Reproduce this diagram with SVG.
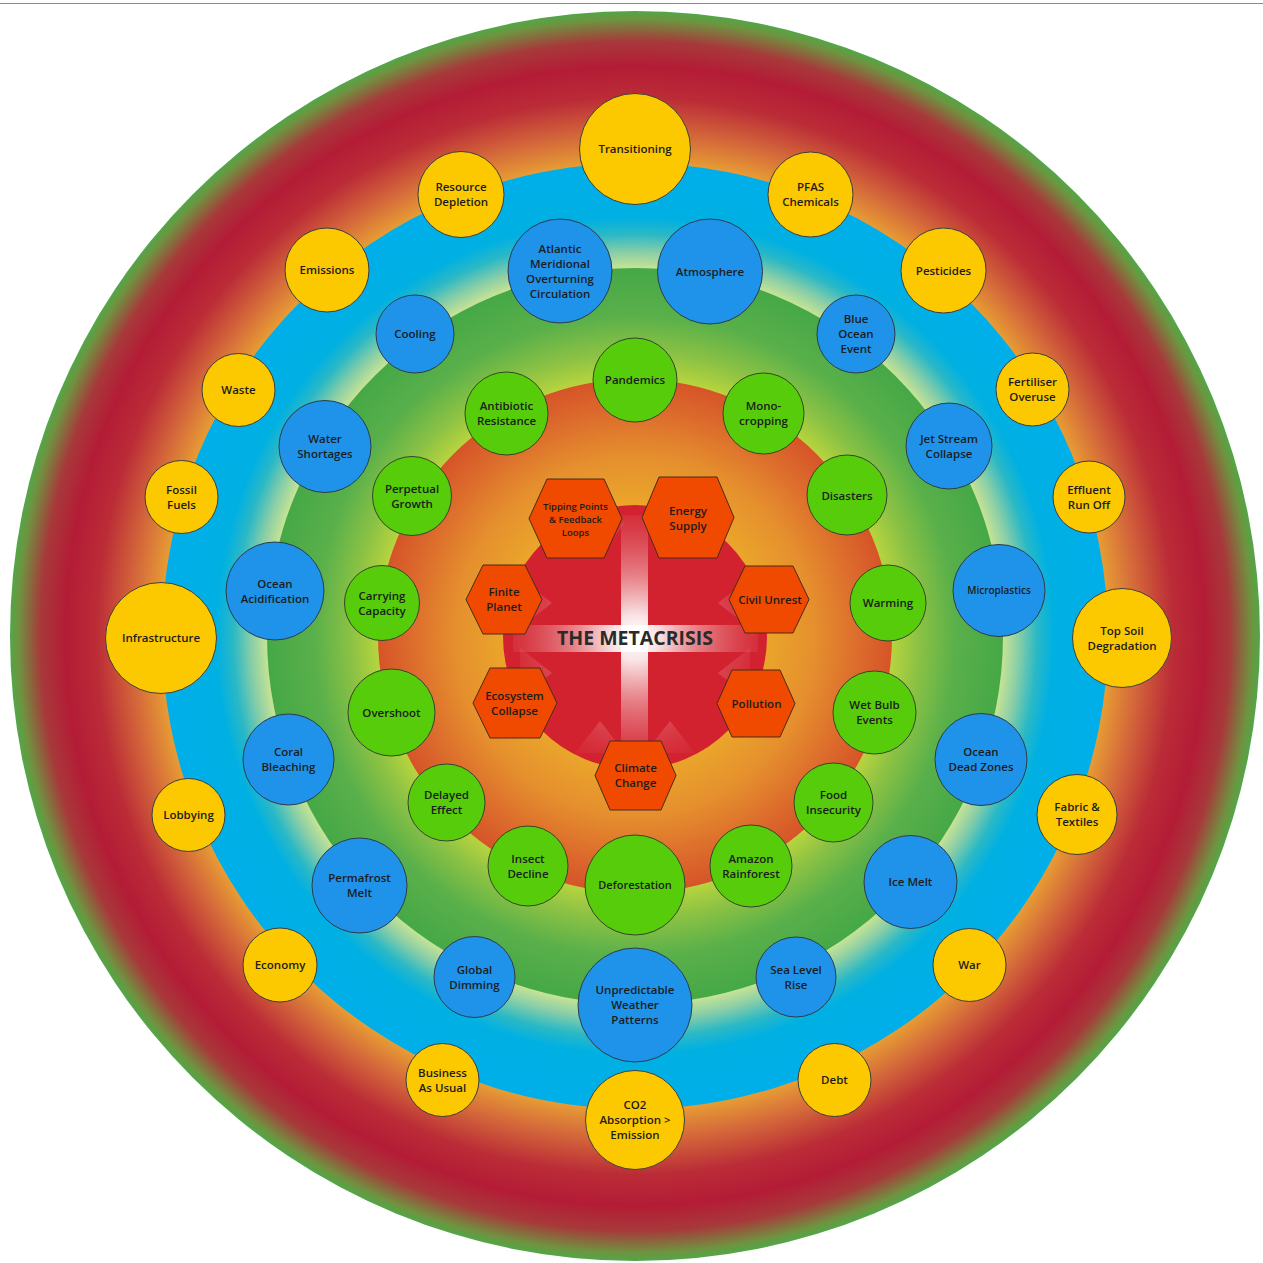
<svg xmlns="http://www.w3.org/2000/svg" width="1263" height="1263" viewBox="0 0 1263 1263">
<style>
.t{font-family:"Open Sans","Noto Sans","DejaVu Sans",sans-serif;font-weight:600;font-size:11.5px;fill:#1c1c1c;text-anchor:middle}
.ts{font-size:10px}
.tt{font-size:9.5px}
.y{fill:#fcc800;stroke:#3d3d3d;stroke-width:1}
.b{fill:#1f93e9;stroke:#2d3b4a;stroke-width:1}
.g{fill:#56cc0a;stroke:#34452a;stroke-width:1}
.h{fill:#f04a00;stroke:#4a2a1a;stroke-width:1}
</style>
<defs>
<radialGradient id="gOuter" gradientUnits="userSpaceOnUse" cx="635" cy="636" r="626">
<stop offset="0.75" stop-color="#e9a233"/>
<stop offset="0.80" stop-color="#d56b3a"/>
<stop offset="0.86" stop-color="#bb2c37"/>
<stop offset="0.91" stop-color="#b41c36"/>
<stop offset="0.95" stop-color="#a7393a"/>
<stop offset="0.985" stop-color="#6f9340"/>
<stop offset="1" stop-color="#4ea948"/>
</radialGradient>
<radialGradient id="gBlue" gradientUnits="userSpaceOnUse" cx="635" cy="636" r="473">
<stop offset="0.778" stop-color="#c6e395"/>
<stop offset="0.81" stop-color="#8ccfa6"/>
<stop offset="0.85" stop-color="#2ab8c6"/>
<stop offset="0.885" stop-color="#00b0e2"/>
<stop offset="1" stop-color="#00aeea"/>
</radialGradient>
<radialGradient id="gGreen" gradientUnits="userSpaceOnUse" cx="635" cy="636" r="368">
<stop offset="0.698" stop-color="#b8d43e"/>
<stop offset="0.77" stop-color="#8cc244"/>
<stop offset="0.87" stop-color="#5ab04a"/>
<stop offset="1" stop-color="#45a846"/>
</radialGradient>
<radialGradient id="gInner" gradientUnits="userSpaceOnUse" cx="635" cy="636" r="257">
<stop offset="0" stop-color="#f0b020"/>
<stop offset="0.5" stop-color="#eba72a"/>
<stop offset="0.7" stop-color="#e58f2e"/>
<stop offset="0.88" stop-color="#dc6a2c"/>
<stop offset="1" stop-color="#d65428"/>
</radialGradient>
<radialGradient id="gGlow" gradientUnits="userSpaceOnUse" cx="635" cy="638" r="125">
<stop offset="0" stop-color="#ffffff" stop-opacity="1"/>
<stop offset="0.18" stop-color="#ffffff" stop-opacity="0.88"/>
<stop offset="0.5" stop-color="#fbe0e0" stop-opacity="0.5"/>
<stop offset="0.8" stop-color="#f4b8b8" stop-opacity="0.25"/>
<stop offset="1" stop-color="#f0a0a0" stop-opacity="0.08"/>
</radialGradient>
<clipPath id="cRed"><circle cx="635" cy="637" r="132"/></clipPath>
</defs>

<rect x="0" y="0" width="1263" height="1263" fill="#ffffff"/>
<line x1="0" y1="3.5" x2="1263" y2="3.5" stroke="#8a8a8a" stroke-width="1.2"/>

<g id="background">
<circle cx="635" cy="636" r="625" fill="url(#gOuter)"/>
<circle cx="635" cy="636" r="473" fill="url(#gBlue)"/>
<circle cx="635" cy="636" r="368" fill="url(#gGreen)"/>
<circle cx="635" cy="636" r="257" fill="url(#gInner)"/>
<circle cx="635" cy="637" r="132" fill="#d2222f"/>
<g clip-path="url(#cRed)" fill="url(#gGlow)">
<rect x="621" y="515" width="27" height="245"/>
<rect x="513" y="625" width="245" height="27"/>
<g opacity="0.7">
<polygon points="600,555 575,523 625,523"/>
<polygon points="670,555 645,523 695,523"/>
<polygon points="600,721 575,753 625,753"/>
<polygon points="670,721 645,753 695,753"/>
<polygon points="552,603 520,578 520,628"/>
<polygon points="552,673 520,648 520,698"/>
<polygon points="718,603 750,578 750,628"/>
<polygon points="718,673 750,648 750,698"/>
</g>
</g>
<text id="title" x="635" y="645" style="font-family:'Open Sans','Noto Sans','DejaVu Sans',sans-serif;font-weight:700;font-size:19.5px;fill:#2a2a2a;text-anchor:middle">THE METACRISIS</text>
</g>

<g id="connectors"></g>

<!-- Yellow outer ring -->
<g id="n-transitioning"><circle class="y" cx="635" cy="149" r="55.5"/><text class="t" x="635" y="153">Transitioning</text></g>
<g id="n-resource-depletion"><circle class="y" cx="461" cy="194.5" r="43"/><text class="t" x="461" y="191">Resource<tspan x="461" y="206">Depletion</tspan></text></g>
<g id="n-pfas"><circle class="y" cx="810.5" cy="194.5" r="42.5"/><text class="t" x="810.5" y="191">PFAS<tspan x="810.5" y="206">Chemicals</tspan></text></g>
<g id="n-emissions"><circle class="y" cx="327" cy="270" r="42"/><text class="t" x="327" y="274">Emissions</text></g>
<g id="n-pesticides"><circle class="y" cx="943.5" cy="270.5" r="42.5"/><text class="t" x="943.5" y="274.5">Pesticides</text></g>
<g id="n-waste"><circle class="y" cx="238.5" cy="390" r="36.5"/><text class="t" x="238.5" y="394">Waste</text></g>
<g id="n-fertiliser"><circle class="y" cx="1032.5" cy="389.5" r="36.5"/><text class="t" x="1032.5" y="386">Fertiliser<tspan x="1032.5" y="401">Overuse</tspan></text></g>
<g id="n-fossil-fuels"><circle class="y" cx="181.5" cy="497" r="36.5"/><text class="t" x="181.5" y="493.5">Fossil<tspan x="181.5" y="508.5">Fuels</tspan></text></g>
<g id="n-effluent"><circle class="y" cx="1089" cy="497" r="36"/><text class="t" x="1089" y="493.5">Effluent<tspan x="1089" y="508.5">Run Off</tspan></text></g>
<g id="n-infrastructure"><circle class="y" cx="161" cy="638" r="55.5"/><text class="t" x="161" y="642">Infrastructure</text></g>
<g id="n-top-soil"><circle class="y" cx="1122" cy="638" r="49.5"/><text class="t" x="1122" y="634.5">Top Soil<tspan x="1122" y="649.5">Degradation</tspan></text></g>
<g id="n-lobbying"><circle class="y" cx="188.5" cy="815" r="36.5"/><text class="t" x="188.5" y="819">Lobbying</text></g>
<g id="n-fabric"><circle class="y" cx="1077" cy="814.5" r="40"/><text class="t" x="1077" y="811">Fabric &amp;<tspan x="1077" y="826">Textiles</tspan></text></g>
<g id="n-economy"><circle class="y" cx="280" cy="965" r="37"/><text class="t" x="280" y="969">Economy</text></g>
<g id="n-war"><circle class="y" cx="969.5" cy="965" r="36.5"/><text class="t" x="969.5" y="969">War</text></g>
<g id="n-business"><circle class="y" cx="442.5" cy="1080" r="36.5"/><text class="t" x="442.5" y="1076.5">Business<tspan x="442.5" y="1091.5">As Usual</tspan></text></g>
<g id="n-debt"><circle class="y" cx="834.5" cy="1080" r="36.5"/><text class="t" x="834.5" y="1084">Debt</text></g>
<g id="n-co2"><circle class="y" cx="635" cy="1120" r="49.5"/><text class="t" x="635" y="1109">CO2<tspan x="635" y="1124">Absorption &gt;</tspan><tspan x="635" y="1139">Emission</tspan></text></g>

<!-- Blue ring -->
<g id="n-amoc"><circle class="b" cx="560" cy="271" r="52"/><text class="t" x="560" y="252.5">Atlantic<tspan x="560" y="267.5">Meridional</tspan><tspan x="560" y="282.5">Overturning</tspan><tspan x="560" y="297.5">Circulation</tspan></text></g>
<g id="n-atmosphere"><circle class="b" cx="710" cy="271.5" r="52.5"/><text class="t" x="710" y="275.5">Atmosphere</text></g>
<g id="n-cooling"><circle class="b" cx="415" cy="334" r="39"/><text class="t" x="415" y="338">Cooling</text></g>
<g id="n-blue-ocean"><circle class="b" cx="856" cy="334" r="39"/><text class="t" x="856" y="323">Blue<tspan x="856" y="338">Ocean</tspan><tspan x="856" y="353">Event</tspan></text></g>
<g id="n-water"><circle class="b" cx="325" cy="446.5" r="46"/><text class="t" x="325" y="443">Water<tspan x="325" y="458">Shortages</tspan></text></g>
<g id="n-jet-stream"><circle class="b" cx="949" cy="446" r="43"/><text class="t" x="949" y="442.5">Jet Stream<tspan x="949" y="457.5">Collapse</tspan></text></g>
<g id="n-acidification"><circle class="b" cx="275" cy="591" r="49"/><text class="t" x="275" y="587.5">Ocean<tspan x="275" y="602.5">Acidification</tspan></text></g>
<g id="n-microplastics"><circle class="b" cx="999" cy="590.5" r="46"/><text class="t ts" x="999" y="594">Microplastics</text></g>
<g id="n-coral"><circle class="b" cx="288.5" cy="759.5" r="45.5"/><text class="t" x="288.5" y="756">Coral<tspan x="288.5" y="771">Bleaching</tspan></text></g>
<g id="n-dead-zones"><circle class="b" cx="981" cy="759.5" r="46"/><text class="t" x="981" y="756">Ocean<tspan x="981" y="771">Dead Zones</tspan></text></g>
<g id="n-permafrost"><circle class="b" cx="359.5" cy="885.5" r="47.5"/><text class="t" x="359.5" y="882">Permafrost<tspan x="359.5" y="897">Melt</tspan></text></g>
<g id="n-ice-melt"><circle class="b" cx="910.5" cy="882" r="46.5"/><text class="t" x="910.5" y="886">Ice Melt</text></g>
<g id="n-dimming"><circle class="b" cx="474.5" cy="977" r="40.5"/><text class="t" x="474.5" y="973.5">Global<tspan x="474.5" y="988.5">Dimming</tspan></text></g>
<g id="n-sea-level"><circle class="b" cx="796" cy="977" r="40"/><text class="t" x="796" y="973.5">Sea Level<tspan x="796" y="988.5">Rise</tspan></text></g>
<g id="n-weather"><circle class="b" cx="635" cy="1005" r="57"/><text class="t" x="635" y="994">Unpredictable<tspan x="635" y="1009">Weather</tspan><tspan x="635" y="1024">Patterns</tspan></text></g>

<!-- Green ring -->
<g id="n-pandemics"><circle class="g" cx="635" cy="380" r="42"/><text class="t" x="635" y="384">Pandemics</text></g>
<g id="n-antibiotic"><circle class="g" cx="506.5" cy="413.5" r="41.5"/><text class="t" x="506.5" y="410">Antibiotic<tspan x="506.5" y="425">Resistance</tspan></text></g>
<g id="n-monocropping"><circle class="g" cx="763.5" cy="413.5" r="40.5"/><text class="t" x="763.5" y="410">Mono-<tspan x="763.5" y="425">cropping</tspan></text></g>
<g id="n-perpetual"><circle class="g" cx="412" cy="496" r="39.5"/><text class="t" x="412" y="492.5">Perpetual<tspan x="412" y="507.5">Growth</tspan></text></g>
<g id="n-disasters"><circle class="g" cx="847" cy="495" r="40"/><text class="t" x="847" y="499.5">Disasters</text></g>
<g id="n-carrying"><circle class="g" cx="382" cy="603" r="37.5"/><text class="t" x="382" y="599.5">Carrying<tspan x="382" y="614.5">Capacity</tspan></text></g>
<g id="n-warming"><circle class="g" cx="888" cy="603" r="38"/><text class="t" x="888" y="607">Warming</text></g>
<g id="n-overshoot"><circle class="g" cx="391.5" cy="712.5" r="43.5"/><text class="t" x="391.5" y="717">Overshoot</text></g>
<g id="n-wet-bulb"><circle class="g" cx="874.5" cy="712.5" r="41.5"/><text class="t" x="874.5" y="709">Wet Bulb<tspan x="874.5" y="724">Events</tspan></text></g>
<g id="n-delayed"><circle class="g" cx="446.5" cy="802.5" r="38.5"/><text class="t" x="446.5" y="799">Delayed<tspan x="446.5" y="814">Effect</tspan></text></g>
<g id="n-food"><circle class="g" cx="833.5" cy="802.5" r="39.5"/><text class="t" x="833.5" y="799">Food<tspan x="833.5" y="814">Insecurity</tspan></text></g>
<g id="n-insect"><circle class="g" cx="528" cy="866" r="40"/><text class="t" x="528" y="862.5">Insect<tspan x="528" y="877.5">Decline</tspan></text></g>
<g id="n-deforestation"><circle class="g" cx="635" cy="885" r="50"/><text class="t" x="635" y="889" style="font-size:11px">Deforestation</text></g>
<g id="n-amazon"><circle class="g" cx="751" cy="866" r="41"/><text class="t" x="751" y="862.5">Amazon<tspan x="751" y="877.5">Rainforest</tspan></text></g>

<!-- Hexagons -->
<g id="h-tipping"><polygon class="h" points="529,518.5 547,479 604,479 622,518.5 604,558 547,558"/><text class="t tt" x="575.5" y="509.5">Tipping Points<tspan x="575.5" y="522.5">&amp; Feedback</tspan><tspan x="575.5" y="535.5">Loops</tspan></text></g>
<g id="h-energy"><polygon class="h" points="642,517.5 659,477 717,477 734,517.5 717,558 659,558"/><text class="t" x="688" y="515">Energy<tspan x="688" y="530">Supply</tspan></text></g>
<g id="h-finite"><polygon class="h" points="466,599.5 483,565 525,565 542,599.5 525,634 483,634"/><text class="t" x="504" y="596">Finite<tspan x="504" y="611">Planet</tspan></text></g>
<g id="h-civil"><polygon class="h" points="729,599.5 745,566 793,566 809,599.5 793,633 745,633"/><text class="t" x="770" y="604">Civil Unrest</text></g>
<g id="h-ecosystem"><polygon class="h" points="473,703 490,668 540,668 557,703 540,738 490,738"/><text class="t" x="514.5" y="700">Ecosystem<tspan x="514.5" y="715">Collapse</tspan></text></g>
<g id="h-pollution"><polygon class="h" points="717,703.5 732,670 780,670 795,703.5 780,737 732,737"/><text class="t" x="756.5" y="708">Pollution</text></g>
<g id="h-climate"><polygon class="h" points="595,775.5 610,741 661,741 676,775.5 661,810 610,810"/><text class="t" x="635.5" y="772">Climate<tspan x="635.5" y="787">Change</tspan></text></g>
</svg>
